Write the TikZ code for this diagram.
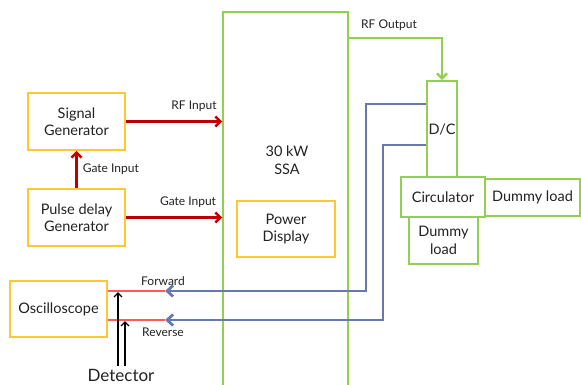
\documentclass[tikz,border=0pt]{standalone}
\usepackage{fontspec}
\setmainfont{Lato}
\usetikzlibrary{arrows.meta}
\definecolor{boxor}{HTML}{FFC832}
\definecolor{boxgr}{HTML}{92D050}
\definecolor{arrred}{HTML}{C00000}
\definecolor{lnblue}{HTML}{6878AC}
\definecolor{lnred}{HTML}{FF5A5A}
\definecolor{txt}{HTML}{222222}
\tikzset{
  obox/.style={draw=boxor, line width=1.6pt, fill=white, align=center, text=txt, font=\fontsize{14.5}{17.5}\selectfont, inner sep=0pt},
  gbox/.style={draw=boxgr, line width=1.6pt, fill=white, align=center, text=txt, font=\fontsize{14.5}{17.5}\selectfont, inner sep=0pt},
  redarr/.style={draw=arrred, line width=2.6pt, -{Straight Barb[length=5pt,width=10pt]}},
  bluearr/.style={draw=lnblue, line width=2.8pt, -{Straight Barb[length=6pt,width=11pt]}},
  greenarr/.style={draw=boxgr, line width=2.6pt, -{Straight Barb[length=5pt,width=10pt]}},
  blkarr/.style={draw=black, line width=1.3pt, -{Straight Barb[length=4pt,width=8pt]}},
  thinred/.style={draw=lnred, line width=1.1pt},
  small/.style={font=\fontsize{12}{14}\selectfont, text=txt, inner sep=0pt},
}
\begin{document}
\begin{tikzpicture}[x=1pt,y=-1pt]
\useasboundingbox (0,0) rectangle (581,385);
\clip (0,0) rectangle (581,385);
% SSA
\node[gbox, minimum width=125pt, minimum height=380pt] (ssa) at (285.5,202) {};
\node[text=txt, align=center, font=\fontsize{14.5}{17.5}\selectfont] (ssalbl) at (287,160) {30 kW\\SSA};
\node[obox, minimum width=98pt, minimum height=56pt] (pd) at (286,229) {Power\\Display};
% left boxes
\node[obox, minimum width=97pt, minimum height=57pt] (sg) at (76.5,121.5) {Signal\\Generator};
\node[obox, minimum width=97pt, minimum height=57pt] (pdg) at (76.5,217.5) {Pulse delay\\Generator};
\node[obox, minimum width=97pt, minimum height=56pt] (osc) at (58.5,309) {Oscilloscope};
% right boxes
\node[gbox, minimum width=30pt, minimum height=96pt] (dc) at (442,129) {D/C};
\node[gbox, minimum width=84pt, minimum height=40pt] (circ) at (443,197) {Circulator};
\node[gbox, minimum width=95pt, minimum height=37pt] (dl1) at (532.5,197.5) {Dummy load};
\node[gbox, minimum width=69pt, minimum height=47pt] (dl2) at (443.5,240.5) {Dummy\\load};
% red arrows
\draw[redarr] (sg.east) -- (ssa.west |- sg.east) node[small, pos=0.5, above=9pt, xshift=20pt] {RF Input};
\draw[redarr] (pdg.east) -- (ssa.west |- pdg.east) node[small, pos=0.5, above=9pt, xshift=14pt] {Gate Input};
\draw[redarr] (pdg.north) -- (sg.south) node[small, pos=0.5, right=5pt] {Gate Input};
% RF output
\coordinate (rfo) at (348,38);
\draw[greenarr] (rfo) -| (dc.north);
\node[small] (rfol) at (389,25) {RF Output};
% detector lines
\coordinate (fwd) at (165,291);
\coordinate (rev) at (165,320);
\draw[thinred] (osc.east |- fwd) -- (fwd);
\draw[thinred] (osc.east |- rev) -- (rev);
\draw[bluearr] (dc.west |- 0,104) -| (366,291) -- (fwd);
\draw[bluearr] (dc.west |- 0,145) -| (383,320) -- (rev);
\node[small] (fl) at (163,281) {Forward};
\node[small] (rl) at (163,332) {Reverse};
\node[text=txt, font=\fontsize{17}{19}\selectfont, inner sep=0pt] (det) at (121,375) {Detector};
\draw[blkarr] (118,366) -- (118,292);
\draw[blkarr] (125,366) -- (125,321);
\end{tikzpicture}
\end{document}
